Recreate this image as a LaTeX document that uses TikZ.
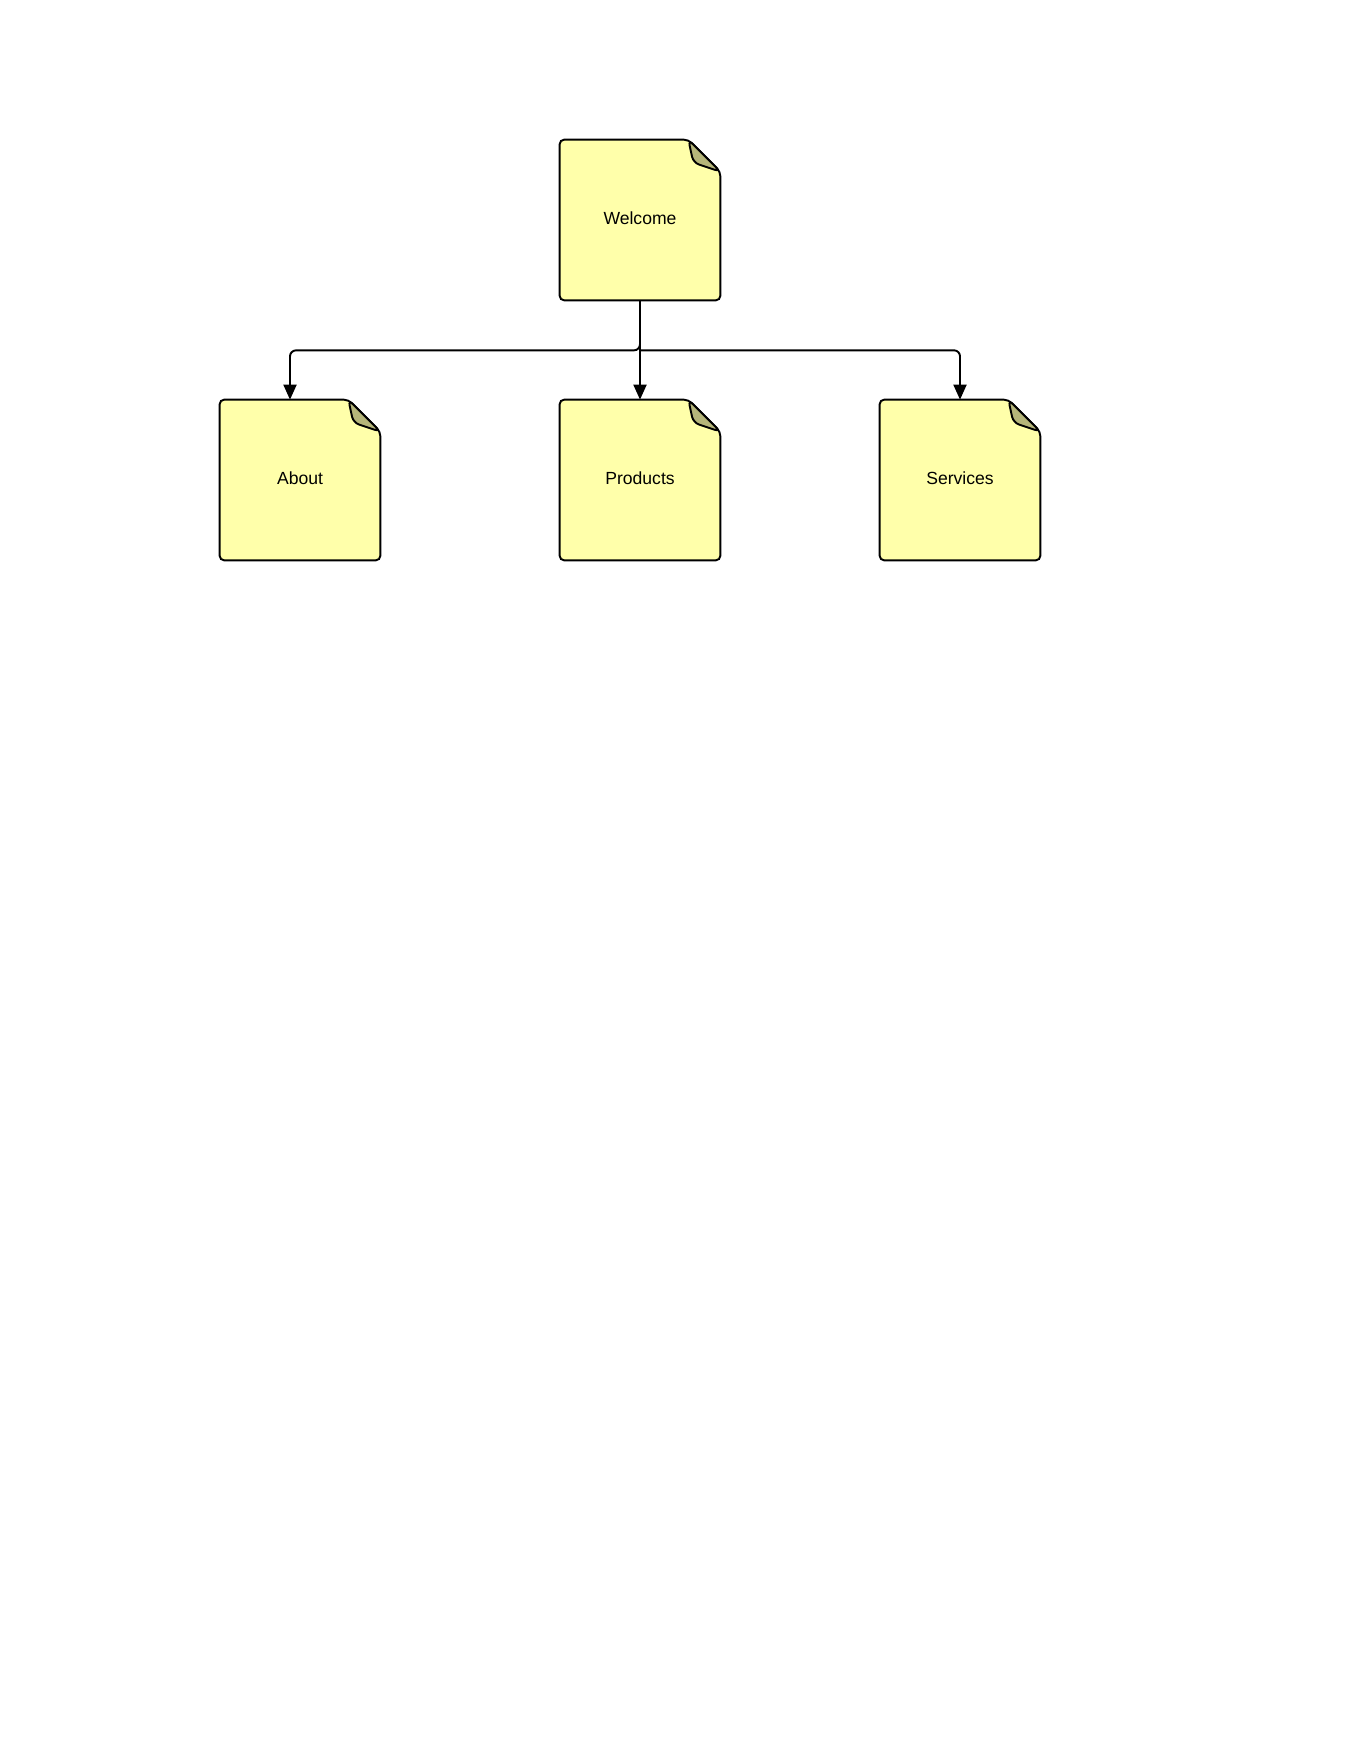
\documentclass[tikz,border=0pt]{standalone}
\usepackage{fontspec}
\setmainfont{Liberation Sans}
\usetikzlibrary{arrows.meta,calc}
\definecolor{pagefill}{RGB}{255,255,170}
\definecolor{foldfill}{RGB}{181,181,122}
\tikzset{
  page/.style={minimum width=3.2cm,minimum height=3.2cm,inner sep=0pt,font=\fontsize{10}{12}\selectfont},
  outline/.style={line width=1.1pt,rounded corners=0.09cm},
  link/.style={line width=1.1pt,rounded corners=0.12cm,-{Triangle[length=0.3cm,width=0.26cm]}}
}
\begin{document}
\begin{tikzpicture}[x=0.02cm,y=-0.02cm]
\useasboundingbox (0,0) rectangle (1360,1760);
%pages
\node[page] (welcome) at (640,220) {};
\node[page] (about) at (300,480) {};
\node[page] (products) at (640,480) {};
\node[page] (services) at (960,480) {};
\foreach \p in {welcome,about,products,services}
{
\draw[outline,fill=pagefill] (\p.north west)--($(\p.north east)+(-32,0)$)--($(\p.north east)+(0,32)$)--(\p.south east)--(\p.south west)--cycle;
\draw[line width=1.1pt,fill=foldfill,rounded corners=0.12cm] ($(\p.north east)+(-32,0)$)--($(\p.north east)+(-27,23)$)--($(\p.north east)+(0,32)$)--cycle;
}
%labels
\node[page] at ($(welcome)+(0,-2)$) {Welcome};
\node[page] at ($(about)+(0,-2)$) {About};
\node[page] at ($(products)+(0,-2)$) {Products};
\node[page] at ($(services)+(0,-2)$) {Services};
%links
\coordinate (split) at ($(welcome.south)+(0,50)$);
\draw[link] (welcome.south)--(split)-|([xshift=-0.2cm]about.north);
\draw[link] (welcome.south)--(products.north);
\draw[link] (split)-|(services.north);
\end{tikzpicture}
\end{document}
